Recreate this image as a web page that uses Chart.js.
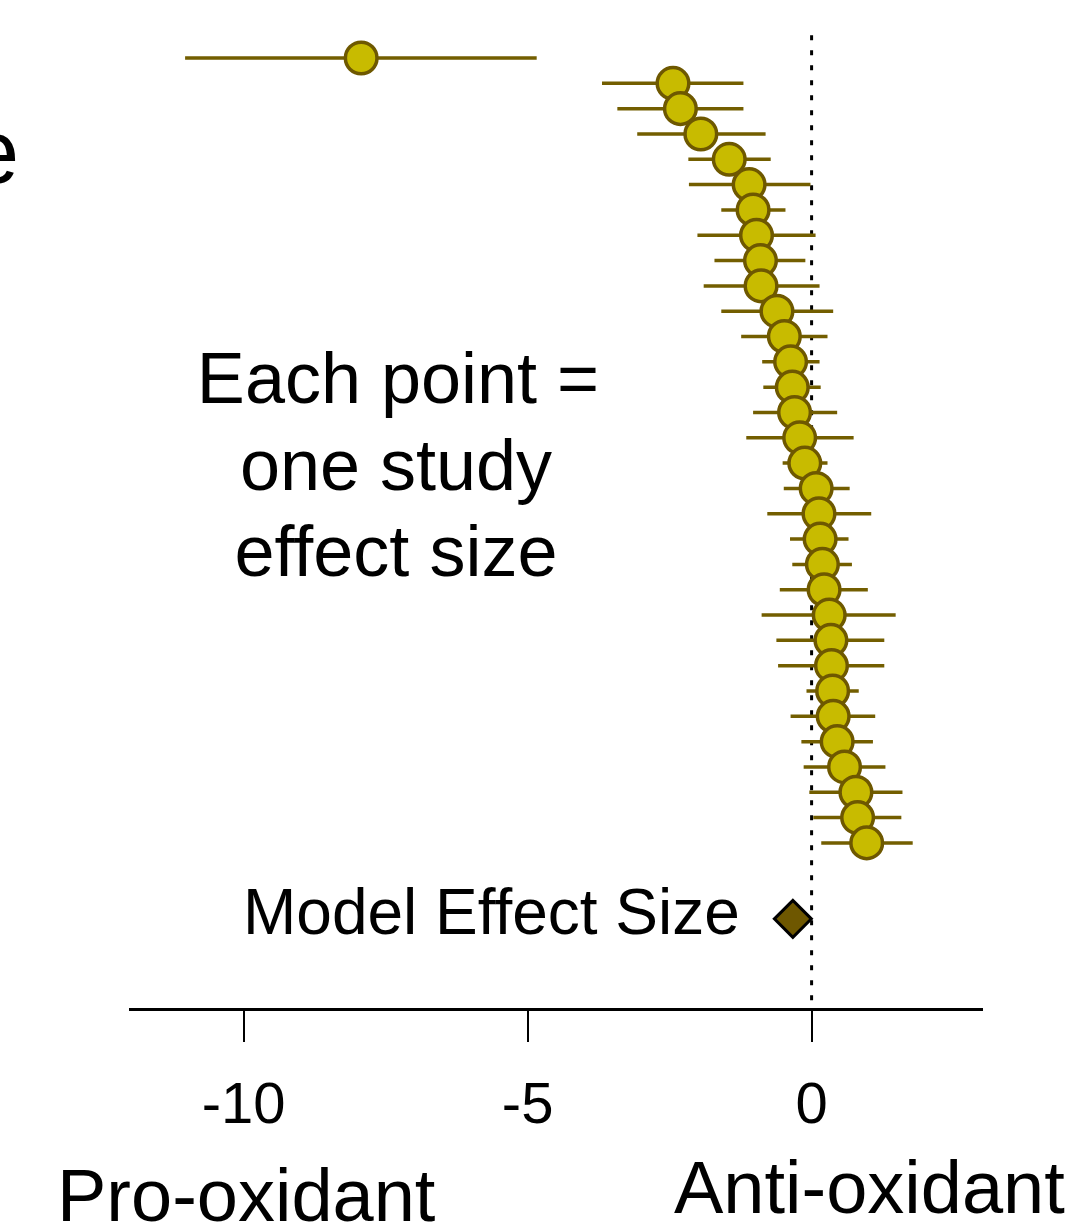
<!DOCTYPE html>
<html>
<head>
<meta charset="utf-8">
<script src="https://cdn.jsdelivr.net/npm/chart.js@4.4.1/dist/chart.umd.min.js"></script>
<style>
  html, body { margin: 0; padding: 0; background: #ffffff; }
  #wrap { width: 1077px; height: 1226px; }
</style>
</head>
<body>
<div id="wrap"><canvas id="forest"></canvas></div>
<script>
// study effect sizes, top to bottom
const effect = [-7.93, -2.44, -2.31, -1.95, -1.45, -1.10, -1.03, -0.97, -0.90, -0.89,
                -0.61, -0.48, -0.37, -0.34, -0.30, -0.21, -0.12, 0.08, 0.13, 0.15,
                0.19, 0.22, 0.31, 0.34, 0.35, 0.37, 0.38, 0.45, 0.58, 0.78, 0.81, 0.97];
const ciLow = [-11.03, -3.69, -3.42, -3.07, -2.17, -2.16, -1.59, -2.01, -1.71, -1.90,
               -1.59, -1.24, -0.87, -0.85, -1.03, -1.15, -0.51, -0.49, -0.78, -0.38,
               -0.34, -0.56, -0.88, -0.62, -0.59, -0.09, -0.37, -0.18, -0.14, -0.04, 0.03, 0.17];
const ciHigh = [-4.84, -1.20, -1.20, -0.81, -0.72, -0.02, -0.46, 0.07, -0.11, 0.14,
                0.38, 0.28, 0.14, 0.16, 0.45, 0.74, 0.28, 0.67, 1.05, 0.65,
                0.71, 0.99, 1.48, 1.28, 1.28, 0.83, 1.12, 1.08, 1.30, 1.60, 1.58, 1.78];
const modelEffect = -0.33;
const modelRow = 35;
const xTicks = [-10, -5, 0];

const X_MIN = -12, X_MAX = 3;
const Y_MAX = 38.56; // axis line sits here

// rows: 1..32
const rows = effect.map((_, i) => i + 1);

// error bars as one broken line
let barData = [];
rows.forEach((r, i) => {
    barData.push({ x: ciLow[i], y: r });
    barData.push({ x: ciHigh[i], y: r });
    barData.push({ x: null, y: null });
});

const pointData = rows.map((r, i) => ({ x: effect[i], y: r }));

const FONT = "'Liberation Sans', Arial, Helvetica, sans-serif";

// free text labels
const textPlugin = {
    id: 'texts',
    afterDraw(chart) {
        const ctx = chart.ctx;
        ctx.save();
        ctx.fillStyle = '#000000';
        ctx.textBaseline = 'alphabetic';

        ctx.font = '72px ' + FONT;
        ctx.textAlign = 'center';
        ctx.fillText('Each point =', 398, 403);
        ctx.fillText('one study', 396, 490);
        ctx.fillText('effect size', 396, 576);

        ctx.font = '64px ' + FONT;
        ctx.textAlign = 'left';
        ctx.fillText('Model Effect Size', 243, 934);

        ctx.font = '74px ' + FONT;
        ctx.textAlign = 'left';
        ctx.fillText('Pro-oxidant', 57, 1221);
        ctx.fillText('Anti-oxidant', 674, 1213);

        ctx.font = '90px ' + FONT;
        ctx.textAlign = 'right';
        ctx.fillText('e', 19, 183);
        ctx.restore();
    }
};

const ctx = document.getElementById('forest').getContext('2d');
const forestChart = new Chart(ctx, {
    type: 'scatter',
    data: {
        datasets: [
            {
                label: 'zero',
                data: [{ x: 0, y: 0.1 }, { x: 0, y: Y_MAX }],
                showLine: true,
                borderColor: '#000000',
                borderWidth: 3,
                borderDash: [5, 10],
                pointRadius: 0,
                order: 3
            },
            {
                label: 'CI',
                data: barData,
                showLine: true,
                spanGaps: false,
                borderColor: '#735e00',
                borderWidth: 3.5,
                pointRadius: 0,
                order: 2
            },
            {
                label: 'Effect size',
                data: pointData,
                backgroundColor: '#c8bb00',
                borderColor: '#6e5800',
                borderWidth: 3.5,
                pointRadius: 15.8,
                order: 1
            },
            {
                label: 'Model',
                data: [{ x: modelEffect, y: modelRow }],
                pointStyle: 'rectRot',
                backgroundColor: '#6e5700',
                borderColor: '#000000',
                borderWidth: 3,
                pointRadius: 18.5,
                order: 0
            }
        ]
    },
    options: {
        responsive: true,
        maintainAspectRatio: false,
        animation: false,
        layout: {
            padding: { left: 130, right: 95, top: 32.7, bottom: 0 }
        },
        plugins: {
            legend: { display: false },
            tooltip: { enabled: false },
            title: { display: false }
        },
        scales: {
            x: {
                type: 'linear',
                min: X_MIN,
                max: X_MAX,
                afterBuildTicks: (scale) => {
                    scale.ticks = xTicks.map(v => ({ value: v }));
                },
                afterFit: (scale) => {
                    scale.height = 217;
                },
                border: { display: true, color: '#000000', width: 3 },
                grid: {
                    drawOnChartArea: false,
                    drawTicks: true,
                    tickLength: 33,
                    color: '#000000',
                    lineWidth: 2
                },
                ticks: {
                    color: '#000000',
                    font: { family: FONT, size: 58 },
                    padding: 30,
                    maxRotation: 0,
                    autoSkip: false
                }
            },
            y: {
                type: 'linear',
                display: false,
                reverse: true,
                min: 0,
                max: Y_MAX
            }
        }
    },
    plugins: [textPlugin]
});
</script>
</body>
</html>
